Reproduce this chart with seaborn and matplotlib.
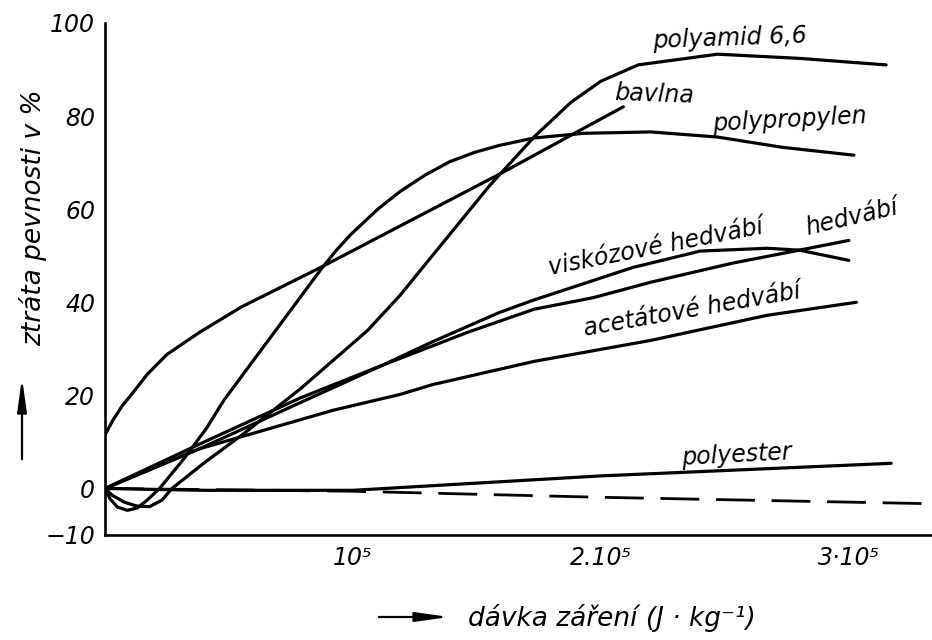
import matplotlib
matplotlib.use("Agg")
import matplotlib.pyplot as plt
from matplotlib.patches import FancyArrowPatch
import seaborn as sns

# dose in J/kg, loss of strength in %
polyamid_x = [0, 3000, 8000, 13000, 18000, 23000, 27000, 40000, 56500, 79000, 106000,
              119000, 132000, 155000, 173000, 188000, 200000, 215000, 247000, 280000, 315000]
polyamid_y = [0, -1.5, -3.0, -3.8, -3.9, -2.5, 0, 5.5, 12, 21.5, 34,
              41.5, 50, 65, 75.5, 83, 87.5, 91, 93.3, 92.4, 91]

polypropylen_x = [0, 2000, 5000, 9000, 13000, 17000, 22000, 32000, 41000, 48000, 87000, 93000,
                  99000, 105000, 110000, 119000, 129000, 139000, 149000, 159000, 173000, 193000,
                  220000, 247000, 273000, 302000]
polypropylen_y = [0, -2.2, -4.0, -4.7, -4.2, -2.5, 0, 6.5, 13, 19, 47, 51,
                  54.5, 57.5, 60, 63.8, 67.3, 70.2, 72.2, 73.7, 75.3, 76.3,
                  76.6, 75.5, 73.3, 71.6]

bavlna_x = [0, 3000, 7000, 11000, 17000, 25000, 38000, 55000, 87000, 132000, 159000, 209000]
bavlna_y = [11.5, 14.5, 17.8, 20.4, 24.5, 28.8, 33.5, 39, 47.5, 60, 67.5, 82]

viskoza_x = [0, 38000, 79000, 112000, 132000, 159000, 173000, 213000, 220000, 240000, 267000,
             280000, 300000]
viskoza_y = [0, 8.5, 18.5, 26.5, 31.5, 37.8, 40.5, 47.5, 48.4, 51, 51.6, 51.2, 49]

hedvabi_x = [0, 38000, 79000, 112000, 146000, 173000, 197000, 220000, 253000, 280000, 300000]
hedvabi_y = [0, 9.5, 19.5, 26.5, 33.5, 38.5, 41, 44.3, 48.4, 51.2, 53.3]

acetat_x = [0, 38000, 92000, 119000, 132000, 173000, 220000, 267000, 303000]
acetat_y = [0, 8.5, 16.8, 20.2, 22.3, 27.3, 31.8, 37.2, 40]

polyester_x = [0, 40000, 100000, 200000, 317000]
polyester_y = [0, -0.4, -0.4, 2.7, 5.4]

zero_ref_x = [0, 100000, 200000, 335000]
zero_ref_y = [0, -0.6, -1.9, -3.3]

y_ticks = [-10, 0, 20, 40, 60, 80, 100]
y_tick_labels = ["\u221210", "0", "20", "40", "60", "80", "100"]
x_ticks = [100000, 200000, 300000]
x_tick_labels = ["10\u2075", "2.10\u2075", "3\u00b710\u2075"]

sns.set_style("white")
plt.rcParams['font.family'] = ['DejaVu Sans']
plt.rcParams['text.color'] = 'black'
plt.rcParams['xtick.color'] = 'black'
plt.rcParams['ytick.color'] = 'black'

W, H = 932, 640
fig = plt.figure(figsize=(W / 100, H / 100), dpi=100)
ax = fig.add_axes([105 / W, 1 - 535 / H, 1 - 105 / W, 512 / H])


def fpos(x, y):
    return x / W, 1 - y / H


line_kw = dict(color="black", linewidth=2.3, sort=False, estimator=None, ax=ax)
for xs, ys in [(polyamid_x, polyamid_y), (polypropylen_x, polypropylen_y),
               (bavlna_x, bavlna_y), (viskoza_x, viskoza_y), (hedvabi_x, hedvabi_y),
               (acetat_x, acetat_y), (polyester_x, polyester_y)]:
    sns.lineplot(x=xs, y=ys, **line_kw)

sns.lineplot(x=zero_ref_x, y=zero_ref_y, color="black", linewidth=2.0, sort=False,
             estimator=None, ax=ax, linestyle=(0, (14, 6)))

ax.set_xlim(0, 333500)
ax.set_ylim(-10, 100)
for side in ["top", "right"]:
    ax.spines[side].set_visible(False)
for side in ["left", "bottom"]:
    ax.spines[side].set_linewidth(1.9)
    ax.spines[side].set_color("black")

ax.set_yticks(y_ticks)
ax.set_yticklabels(y_tick_labels)
ax.set_xticks(x_ticks)
ax.set_xticklabels(x_tick_labels)
ax.tick_params(axis="y", direction="in", length=9, width=1.8, pad=7, labelsize=17)
ax.tick_params(axis="x", direction="in", length=11, width=1.6, pad=8, labelsize=17)
for lab in ax.get_xticklabels() + ax.get_yticklabels():
    lab.set_style("italic")
ax.set_xlabel("")
ax.set_ylabel("")

txt = dict(style="italic", fontsize=17, ha="center", va="center", color="black")
fig.text(*fpos(730, 38), "polyamid 6,6", rotation=2, **txt)
fig.text(*fpos(654, 94), "bavlna", rotation=-2, **txt)
fig.text(*fpos(790, 120), "polypropylen", rotation=3, **txt)
fig.text(*fpos(656, 247), "viskózové hedvábí", rotation=11, **txt)
fig.text(*fpos(852, 218), "hedvábí", rotation=13, **txt)
fig.text(*fpos(692, 310), "acetátové hedvábí", rotation=10, **txt)
fig.text(*fpos(737, 455), "polyester", rotation=3, **txt)

axis_txt = dict(txt, fontsize=19)
fig.text(*fpos(33, 218), "ztráta pevnosti v %", rotation=90, **axis_txt)
fig.text(*fpos(612, 618), "dávka záření (J · kg\u207b\u00b9)", **axis_txt)

arrow = dict(arrowstyle="-|>,head_length=1.0,head_width=0.14", color="black", lw=1.6,
             mutation_scale=20, transform=fig.transFigure)
fig.add_artist(FancyArrowPatch(fpos(22, 462), fpos(22, 375), **arrow))
fig.add_artist(FancyArrowPatch(fpos(376, 617), fpos(452, 617), **arrow))

fig.savefig("out.png", dpi=100)
